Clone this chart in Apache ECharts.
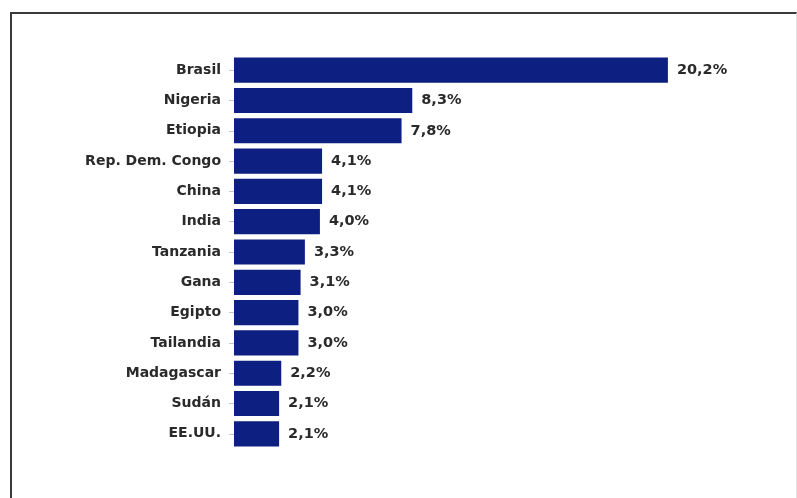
<!DOCTYPE html>
<html>
<head>
<meta charset="utf-8">
<script src="https://cdn.jsdelivr.net/npm/echarts@6/dist/echarts.min.js"></script>
<style>
  html, body { margin: 0; padding: 0; background: #fff; }
  #frame {
    position: absolute; left: 10px; top: 12px; width: 784px; height: 500px;
    border-top: 2px solid #3a3a3a; border-left: 2px solid #3a3a3a;
    border-right: 1px solid #e2e2e2;
  }
  #chart { position: absolute; left: 0; top: 0; width: 797px; height: 498px; }
</style>
</head>
<body>
<div id="frame"></div>
<div id="chart"></div>
<script>
// Share by country (%), top to bottom
const countries = ['Brasil', 'Nigeria', 'Etiopia', 'Rep. Dem. Congo', 'China', 'India', 'Tanzania', 'Gana', 'Egipto', 'Tailandia', 'Madagascar', 'Sudán', 'EE.UU.'];
const shares = [20.2, 8.3, 7.8, 4.1, 4.1, 4.0, 3.3, 3.1, 3.0, 3.0, 2.2, 2.1, 2.1];

const textFont = '"DejaVu Sans", Verdana, sans-serif';

const chart = echarts.init(document.getElementById('chart'), null, { renderer: 'canvas' });
chart.setOption({
  animation: false,
  grid: { left: 234, top: 55, width: 537, height: 394, containLabel: false },
  xAxis: {
    type: 'value', min: 0, max: 25, show: false
  },
  yAxis: {
    type: 'category',
    data: countries,
    inverse: true,
    axisLine: { show: false },
    axisTick: { show: true, alignWithLabel: true, length: 5, lineStyle: { color: '#c8c8c8' } },
    axisLabel: {
      margin: 13, color: '#2a2a2a', fontSize: 14, fontWeight: 'bold', fontFamily: textFont
    }
  },
  series: [{
    type: 'bar',
    data: shares,
    barCategoryGap: '17%',
    itemStyle: { color: '#0d1f80' },
    label: {
      show: true, position: 'right', distance: 9,
      color: '#2a2a2a', fontSize: 14.5, fontWeight: 'bold', fontFamily: textFont,
      formatter: p => p.value.toFixed(1).replace('.', ',') + '%'
    }
  }]
});
</script>
</body>
</html>
